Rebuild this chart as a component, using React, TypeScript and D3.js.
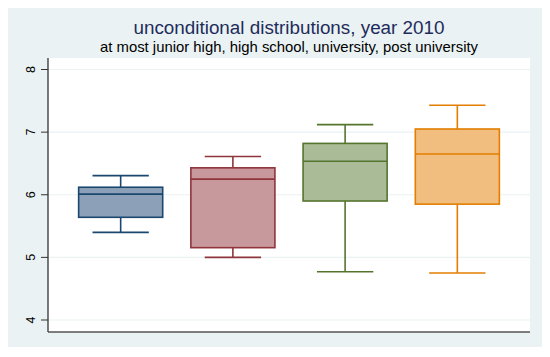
import React from "react";
import * as d3 from "d3";

// education groups, in drawing order
const groups = ["at most junior high", "high school", "university", "post university"];
// five-number summaries (log scale values)
const whiskerLow = [5.4, 5.0, 4.77, 4.75];
const quartile1 = [5.64, 5.155, 5.9, 5.85];
const medians = [6.01, 6.25, 6.535, 6.65];
const quartile3 = [6.12, 6.43, 6.82, 7.05];
const whiskerHigh = [6.305, 6.61, 7.12, 7.43];
const yTicks = [4, 5, 6, 7, 8];

const strokeColors = ["#1a476f", "#90353b", "#55752f", "#e37e00"];
const fillColors = ["#8ca1b7", "#c8999c", "#aabb97", "#f1be7f"];

const W = 550;
const H = 357;
const plot = { left: 48, right: 530, top: 58, bottom: 332 };

export default function App() {
  const x = d3
    .scaleBand<string>()
    .domain(groups)
    .range([plot.left, plot.right])
    .paddingInner(0.251)
    .paddingOuter(0.273);

  const y = d3.scaleLinear().domain([4, 8]).range([320, 69.5]);

  const bw = x.bandwidth();
  const capW = bw * 0.67;
  const midX = (plot.left + plot.right) / 2;

  return (
    <svg
      width={W}
      height={H}
      style={{ position: "absolute", left: 0, top: 0 }}
      fontFamily="'Liberation Sans', Arial, sans-serif"
    >
      <rect x={0} y={0} width={W} height={H} fill="#ffffff" />
      <rect x={8} y={8} width={534} height={339} fill="#eaf2f3" />
      <rect
        x={plot.left}
        y={plot.top}
        width={plot.right - plot.left}
        height={plot.bottom - plot.top}
        fill="#ffffff"
      />

      {/* gridlines */}
      {yTicks.map((t) => (
        <line
          key={"g" + t}
          x1={plot.left}
          x2={plot.right}
          y1={y(t)}
          y2={y(t)}
          stroke="#eaf2f3"
          strokeWidth={1.2}
        />
      ))}

      {/* boxes */}
      {groups.map((g, i) => {
        const x0 = x(g) || 0;
        const cx = x0 + bw / 2;
        const sc = strokeColors[i];
        return (
          <g key={g}>
            <line x1={cx} x2={cx} y1={y(whiskerHigh[i])} y2={y(quartile3[i])} stroke={sc} strokeWidth={1.6} />
            <line x1={cx} x2={cx} y1={y(quartile1[i])} y2={y(whiskerLow[i])} stroke={sc} strokeWidth={1.6} />
            <line x1={cx - capW / 2} x2={cx + capW / 2} y1={y(whiskerHigh[i])} y2={y(whiskerHigh[i])} stroke={sc} strokeWidth={1.6} />
            <line x1={cx - capW / 2} x2={cx + capW / 2} y1={y(whiskerLow[i])} y2={y(whiskerLow[i])} stroke={sc} strokeWidth={1.6} />
            <rect
              x={x0}
              y={y(quartile3[i])}
              width={bw}
              height={y(quartile1[i]) - y(quartile3[i])}
              fill={fillColors[i]}
              stroke={sc}
              strokeWidth={1.6}
            />
            <line x1={x0} x2={x0 + bw} y1={y(medians[i])} y2={y(medians[i])} stroke={sc} strokeWidth={1.6} />
          </g>
        );
      })}

      {/* axes */}
      <line x1={plot.left} x2={plot.left} y1={plot.top} y2={plot.bottom} stroke="#333333" strokeWidth={1.3} />
      <line x1={plot.left} x2={plot.right} y1={plot.bottom} y2={plot.bottom} stroke="#555555" strokeWidth={1.6} />
      {yTicks.map((t) => (
        <g key={"t" + t}>
          <line x1={plot.left - 7} x2={plot.left} y1={y(t)} y2={y(t)} stroke="#333333" strokeWidth={1} />
          <text
            transform={`translate(35,${y(t)}) rotate(-90)`}
            textAnchor="middle"
            fontSize={12.5}
            fill="#000000"
          >
            {t}
          </text>
        </g>
      ))}

      {/* titles */}
      <text
        x={midX}
        y={34.3}
        textAnchor="middle"
        fontSize={18}
        fill="#1e2c5c"
        textLength={311}
        lengthAdjust="spacingAndGlyphs"
      >
        unconditional distributions, year 2010
      </text>
      <text
        x={midX}
        y={52}
        textAnchor="middle"
        fontSize={14.5}
        fill="#000000"
        textLength={378}
        lengthAdjust="spacingAndGlyphs"
      >
        at most junior high, high school, university, post university
      </text>
    </svg>
  );
}
